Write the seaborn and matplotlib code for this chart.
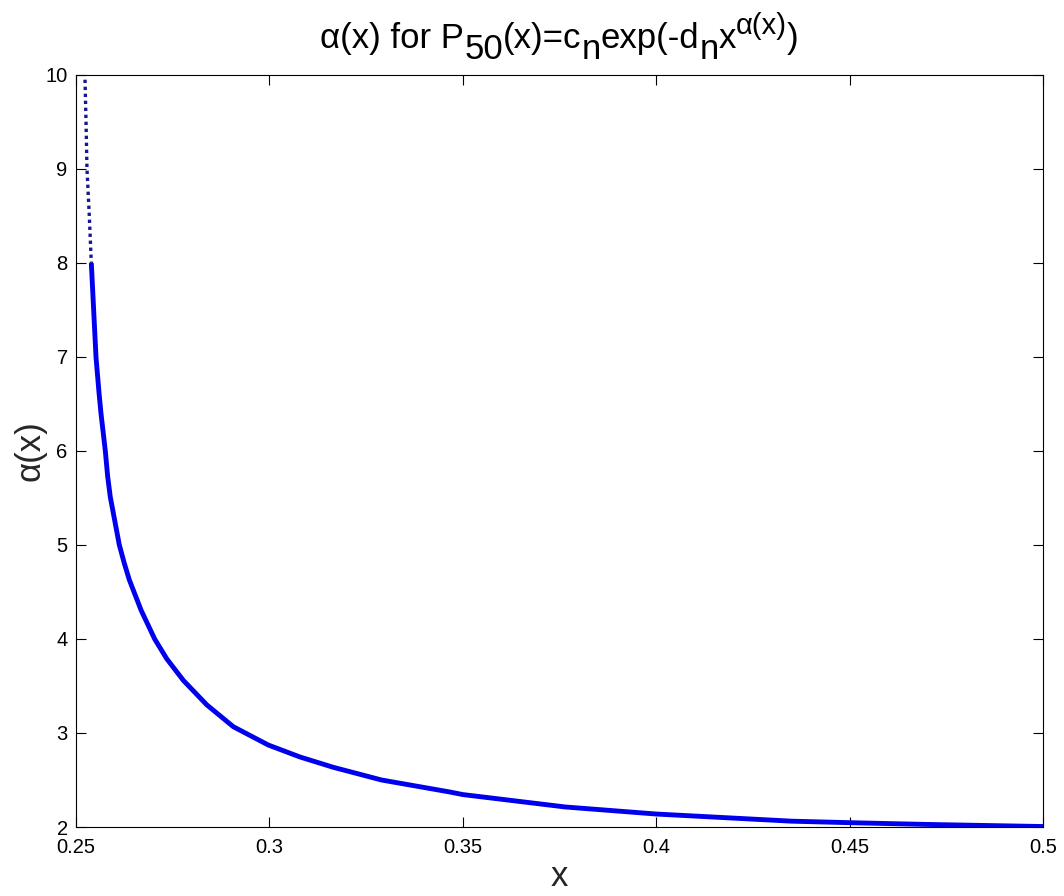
import matplotlib
matplotlib.use("Agg")
import matplotlib.pyplot as plt
from matplotlib.transforms import IdentityTransform
import seaborn as sns

# --- data ---
x_top = [0.25233, 0.25259, 0.25284, 0.25344, 0.25396]
alpha_top = [9.95, 9.50, 9.00, 8.50, 8.00]

x_main = [0.25396, 0.25517, 0.25595, 0.25646, 0.25758, 0.25819, 0.25887,
          0.26120, 0.26249, 0.26378, 0.26680, 0.27034, 0.27345, 0.27774,
          0.28380, 0.29067, 0.29972, 0.30790, 0.31652, 0.32900, 0.34670,
          0.35000, 0.37650, 0.40000, 0.43500, 0.45000, 0.46910, 0.50000]
alpha_main = [8.00, 7.00, 6.62, 6.40, 6.00, 5.727, 5.51,
              5.00, 4.805, 4.63, 4.309, 4.00, 3.79, 3.56,
              3.30, 3.067, 2.872, 2.745, 2.635, 2.50, 2.372,
              2.345, 2.213, 2.138, 2.062, 2.046, 2.028, 2.005]

x_ticks = [0.25, 0.3, 0.35, 0.4, 0.45, 0.5]
x_ticklabels = ["0.25", "0.3", "0.35", "0.4", "0.45", "0.5"]
y_ticks = [2, 3, 4, 5, 6, 7, 8, 9, 10]

# title pieces: (text, vertical shift in px, font size)
title_pieces = [("α(x) for P", 0, 25), ("50", -11, 25), ("(x)=c", 0, 25),
                ("n", -11, 25), ("exp(-d", 0, 25), ("n", -11, 25),
                ("x", 0, 25), ("α(x)", 14, 21), (")", 0, 25)]

sns.set_style("ticks", {"xtick.direction": "in", "ytick.direction": "in"})
plt.rcParams["font.family"] = ["Liberation Sans", "DejaVu Sans"]

W, H = 1064, 896
fig = plt.figure(figsize=(W / 100, H / 100), dpi=100)
ax = fig.add_axes([76 / W, 1 - 827 / H, 967 / W, 752 / H])

sns.lineplot(x=x_main, y=alpha_main, ax=ax, color="#0000ee", linewidth=3.5,
             estimator=None, sort=False, solid_capstyle="butt",
             solid_joinstyle="round")
sns.lineplot(x=x_top, y=alpha_top, ax=ax, color="#16168f", linewidth=2.4,
             estimator=None, sort=False, linestyle=(0, (1, 1.1)))

ax.set_xlim(0.25, 0.5)
ax.set_ylim(2, 10)
ax.set_xticks(x_ticks)
ax.set_xticklabels(x_ticklabels)
ax.set_yticks(y_ticks)
ax.set_yticklabels([str(v) for v in y_ticks])
ax.tick_params(direction="in", length=7, width=0.8, top=True, right=True,
               labelsize=14.5, colors="black")
ax.tick_params(axis="x", pad=8)
ax.tick_params(axis="y", pad=6)
for s in ax.spines.values():
    s.set_visible(True)
    s.set_linewidth(0.8)
    s.set_color("black")

ax.set_xlabel("x", fontsize=25, labelpad=2)
ax.set_ylabel("α(x)", fontsize=25, labelpad=-1)

# MATLAB-style title with full-size subscripts
renderer = fig.canvas.get_renderer()
base_y = H - 48
cur_x = 0.0
texts = []
for txt, dy, size in title_pieces:
    t = fig.text(cur_x, base_y + dy, txt, fontsize=size, ha="left",
                 va="baseline", transform=IdentityTransform(), color="black")
    w = t.get_window_extent(renderer).width
    texts.append((t, cur_x))
    cur_x += w
start = (76 + 1043) / 2 - cur_x / 2
for t, x0 in texts:
    t.set_x(start + x0)

fig.savefig("out.png", dpi=100, facecolor="white")
